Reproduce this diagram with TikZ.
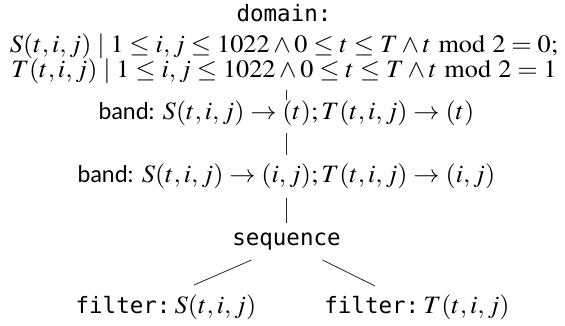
\documentclass[tikz,border=0pt]{standalone}
\usepackage{mathptmx}
\usepackage[no-math]{fontspec}
\setmainfont{Liberation Serif}
\setsansfont{Lato}
\setmonofont{DejaVu Sans Mono}
% math set slightly wider than the Times default
\newcommand\widemath[1]{\scalebox{1.05}[1]{$#1$}}
\newcommand\kw[1]{{\fontsize{22.5}{25}\ttfamily #1}}
\newcommand\sfkw[1]{{\fontsize{23}{25}\sffamily #1}}
\begin{document}
\begin{tikzpicture}[x=1pt,y=-1pt,
  lbl/.style={inner sep=0pt,anchor=base,font=\fontsize{25}{25}\selectfont},
  edge/.style={line width=0.8pt,black!85}]
\useasboundingbox (0,0) rectangle (565,325);
\node[lbl,align=center] (dom) at (284,77)
  {\kw{domain:}\\[6pt]
   \widemath{S(t,i,j)\mid 1\le i,j\le 1022\land 0\le t\le T\land t \bmod 2=0;}\\
   \widemath{T(t,i,j)\mid 1\le i,j\le 1022\land 0\le t\le T\land t \bmod 2=1}};
\node[lbl] (b1) at (286.5,119) {\sfkw{band:} \widemath{S(t,i,j)\to(t);T(t,i,j)\to(t)}};
\node[lbl] (b2) at (286.5,182) {\sfkw{band:} \widemath{S(t,i,j)\to(i,j);T(t,i,j)\to(i,j)}};
\node[lbl] (seq) at (286.5,245) {\kw{sequence}};
\node[lbl] (fS) at (166,313) {\kw{filter:}\,\widemath{S(t,i,j)}};
\node[lbl] (fT) at (417,313) {\kw{filter:}\,\widemath{T(t,i,j)}};
\draw[edge] ([yshift=-13pt]dom.base -| b1.base) -- ([yshift=19pt]b1.base);
\draw[edge] ([yshift=-14pt]b1.base) -- ([yshift=27pt]b2.base);
\draw[edge] ([yshift=-16pt]b2.base) -- ([yshift=22pt]seq.base);
\draw[edge] ([xshift=-35pt,yshift=-15pt]seq.base) -- ([xshift=28pt,yshift=28pt]fS.base);
\draw[edge] ([xshift=36pt,yshift=-15pt]seq.base) -- ([xshift=-42pt,yshift=27pt]fT.base);
\end{tikzpicture}
\end{document}
